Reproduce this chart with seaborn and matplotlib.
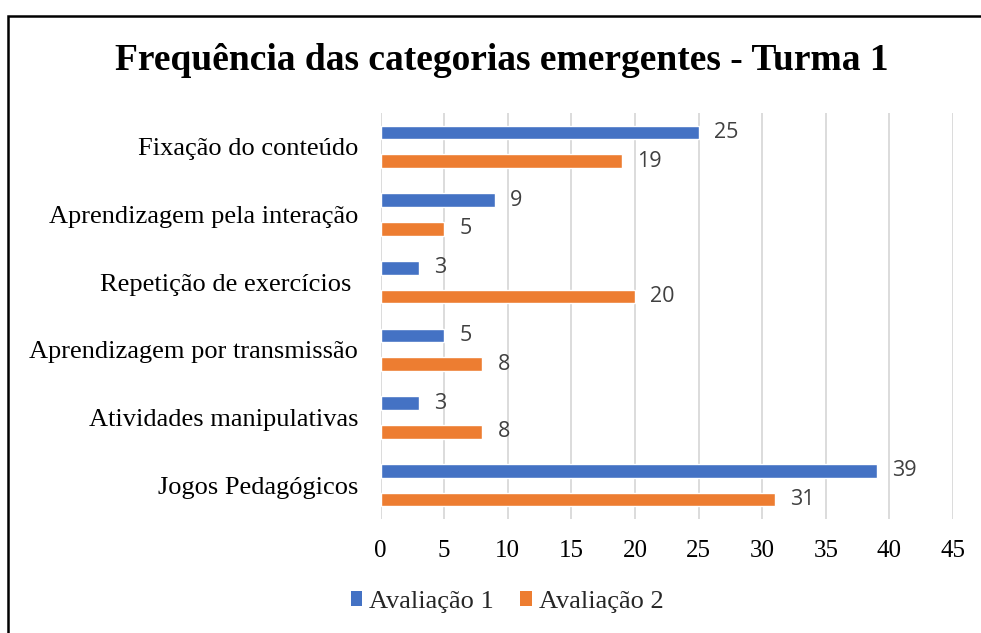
import matplotlib
matplotlib.use("Agg")
import matplotlib.pyplot as plt
import seaborn as sns
import pandas as pd
from matplotlib.patches import Rectangle, Patch

categories = [
    "Fixação do conteúdo",
    "Aprendizagem pela interação",
    "Repetição de exercícios ",
    "Aprendizagem por transmissão",
    "Atividades manipulativas",
    "Jogos Pedagógicos",
]
avaliacao1 = [25, 9, 3, 5, 3, 39]
avaliacao2 = [19, 5, 20, 8, 8, 31]
series_names = ["Avaliação 1", "Avaliação 2"]
colors = ["#4472C4", "#ED7D31"]
x_ticks = [0, 5, 10, 15, 20, 25, 30, 35, 40, 45]
title = "Frequência das categorias emergentes - Turma 1"

df = pd.DataFrame({
    "Categoria": categories * 2,
    "Valor": avaliacao1 + avaliacao2,
    "Serie": [series_names[0]] * len(categories) + [series_names[1]] * len(categories),
})

sns.set_theme(style="white")
plt.rcParams["font.family"] = ["Liberation Serif", "DejaVu Serif"]

W, H = 981, 633
fig = plt.figure(figsize=(W / 100, H / 100), dpi=100)
ax = fig.add_axes([380.5 / W, 1 - 519 / H, (953 - 380.5) / W, (519 - 113) / H])

sns.barplot(data=df, y="Categoria", x="Valor", hue="Serie", orient="h",
            order=categories, hue_order=series_names,
            palette=colors, width=0.84, gap=0.52, ax=ax, legend=False,
            saturation=1, zorder=3)

for cont in ax.containers:
    ax.bar_label(cont, padding=11, fontsize=15.5, color="#404040",
                 family=["Open Sans", "DejaVu Sans"])

ax.set_xlim(0, 45)
ax.set_ylim(5.5, -0.5)
ax.set_xticks(x_ticks)
ax.set_xticklabels([str(t) for t in x_ticks], fontsize=18, color="black")
ax.tick_params(axis="x", length=0, pad=15)
ax.tick_params(axis="y", length=0, pad=16, labelsize=19, labelcolor="black")
ax.set_xlabel("")
ax.set_ylabel("")
ax.grid(axis="x", color="#D9D9D9", linewidth=1.3, zorder=0)
ax.grid(axis="y", visible=False)
for s in ax.spines.values():
    s.set_visible(False)
ax.set_axisbelow(True)

fig.text(502 / W, 1 - 61 / H, title, ha="center", va="center",
         fontsize=27, fontweight="bold", color="black")

handles = [Patch(facecolor=c, edgecolor="none") for c in colors]
fig.legend(handles, series_names, loc="center", ncol=2,
           bbox_to_anchor=(507 / W, 1 - 602 / H), frameon=False,
           fontsize=19, handlelength=0.45, handleheight=0.5,
           handletextpad=0.25, columnspacing=1.0)

fig.patches.append(Rectangle((8 / W, -0.1), 1.2, 1 - 16.5 / H + 0.1,
                             transform=fig.transFigure, fill=False,
                             edgecolor="black", linewidth=1.8, zorder=10))

fig.savefig("out.png", dpi=100, facecolor="white")
